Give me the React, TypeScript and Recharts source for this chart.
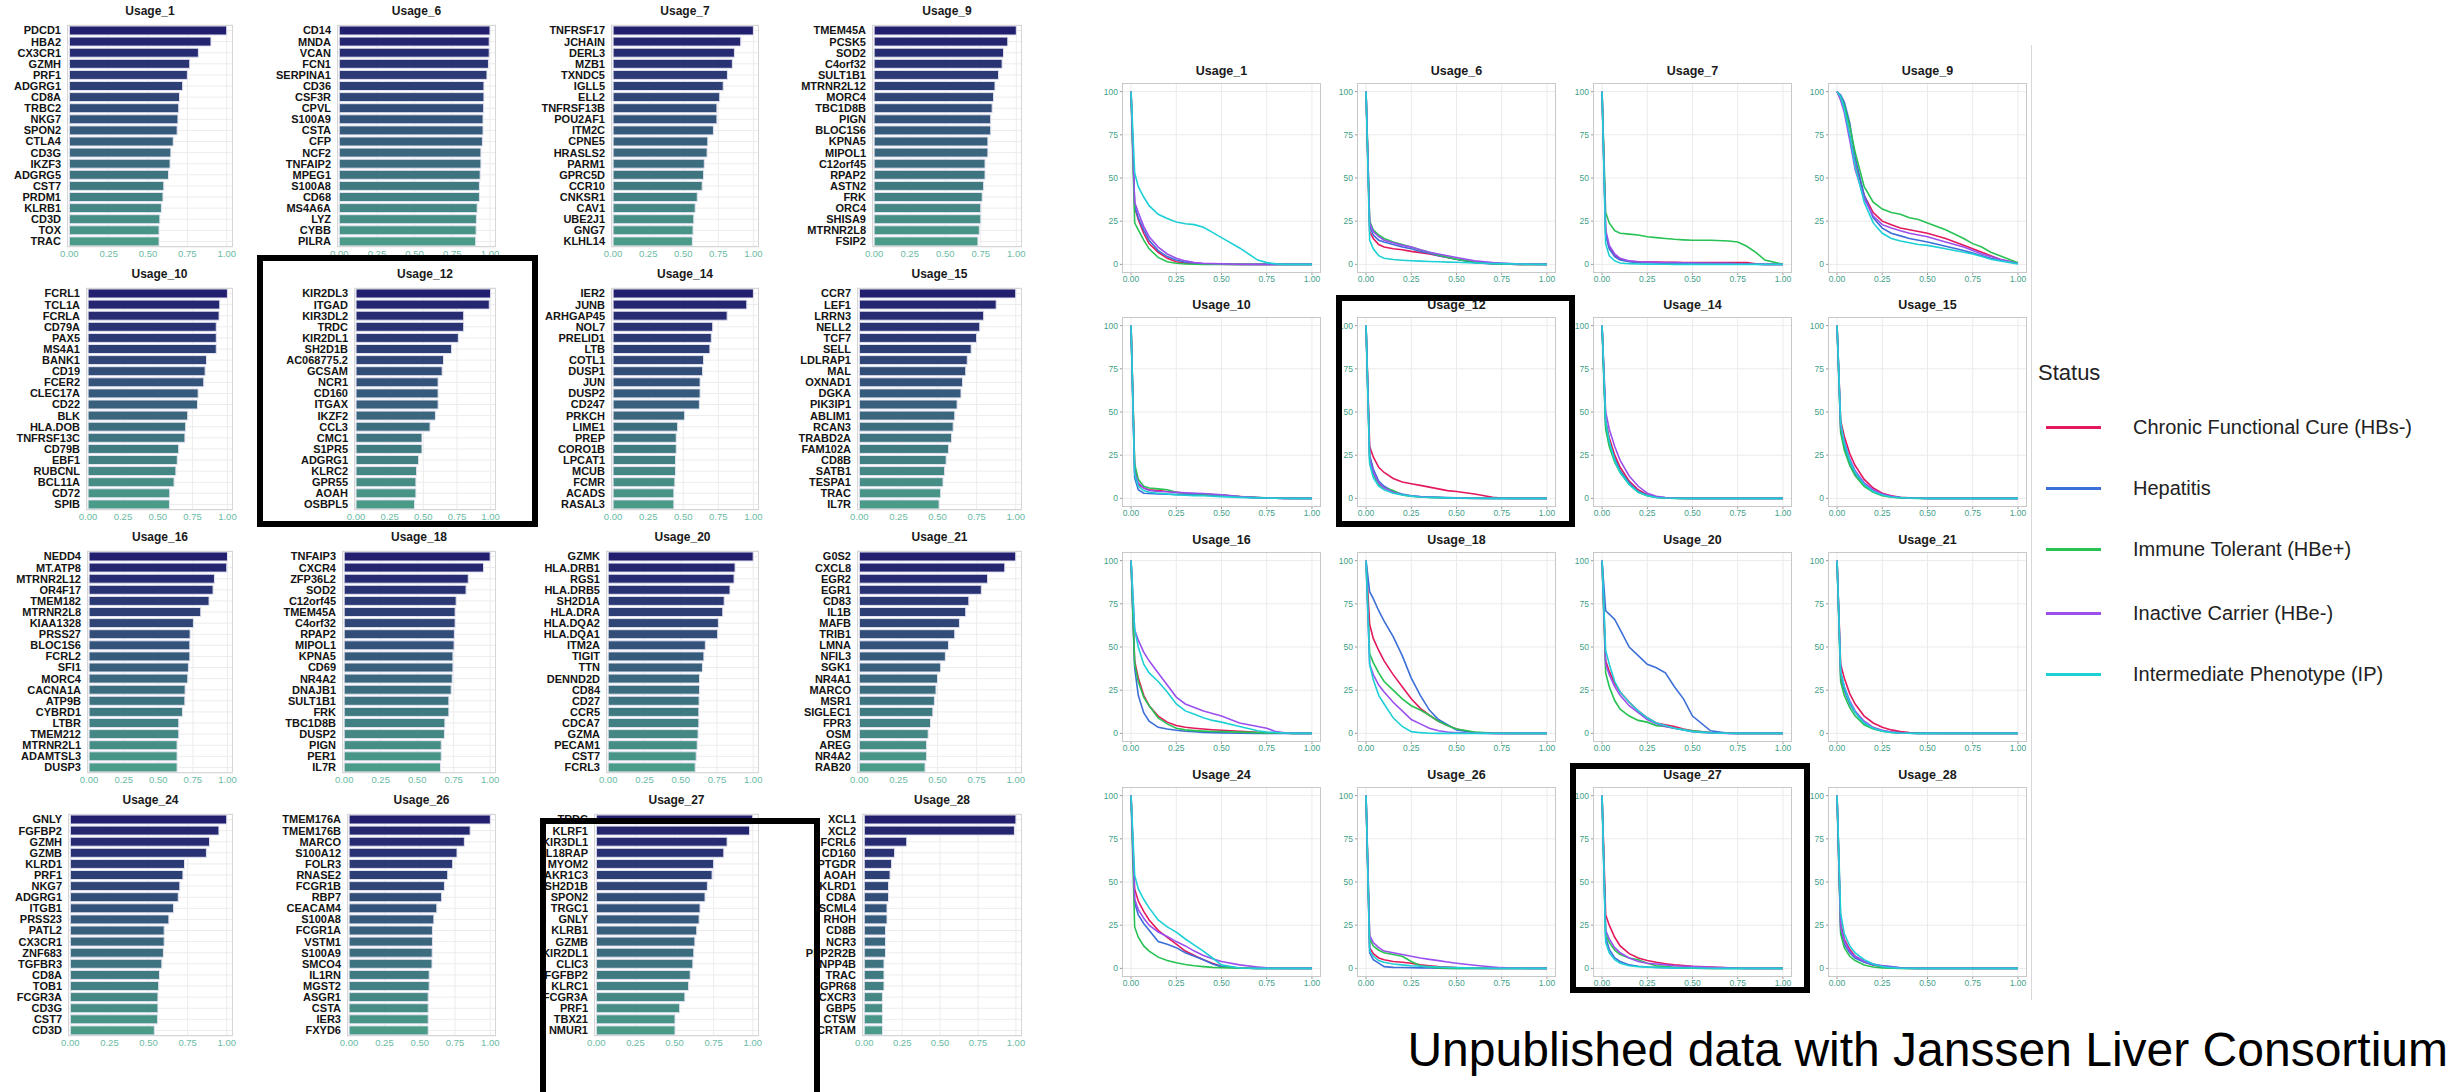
import { BarChart, Bar, Cell, XAxis, YAxis, CartesianGrid, LineChart, Line } from 'recharts'

const FONT = '"Liberation Sans", Arial, Helvetica, sans-serif'

const TITLES = ['Usage_1', 'Usage_6', 'Usage_7', 'Usage_9', 'Usage_10', 'Usage_12', 'Usage_14', 'Usage_15',
  'Usage_16', 'Usage_18', 'Usage_20', 'Usage_21', 'Usage_24', 'Usage_26', 'Usage_27', 'Usage_28']

// ---- top genes per usage (bar panels) ----
const U1_GENES = ['PDCD1', 'HBA2', 'CX3CR1', 'GZMH', 'PRF1', 'ADGRG1', 'CD8A', 'TRBC2', 'NKG7', 'SPON2', 'CTLA4', 'CD3G', 'IKZF3', 'ADGRG5', 'CST7', 'PRDM1', 'KLRB1', 'CD3D', 'TOX', 'TRAC']
const U1_VALUES = [1.0, 0.9, 0.82, 0.765, 0.75, 0.72, 0.7, 0.695, 0.69, 0.685, 0.66, 0.645, 0.64, 0.63, 0.6, 0.595, 0.585, 0.575, 0.57, 0.57]
const U6_GENES = ['CD14', 'MNDA', 'VCAN', 'FCN1', 'SERPINA1', 'CD36', 'CSF3R', 'CPVL', 'S100A9', 'CSTA', 'CFP', 'NCF2', 'TNFAIP2', 'MPEG1', 'S100A8', 'CD68', 'MS4A6A', 'LYZ', 'CYBB', 'PILRA']
const U6_VALUES = [1.0, 0.995, 0.995, 0.99, 0.98, 0.96, 0.96, 0.958, 0.954, 0.954, 0.95, 0.94, 0.94, 0.935, 0.93, 0.93, 0.915, 0.91, 0.908, 0.905]
const U7_GENES = ['TNFRSF17', 'JCHAIN', 'DERL3', 'MZB1', 'TXNDC5', 'IGLL5', 'ELL2', 'TNFRSF13B', 'POU2AF1', 'ITM2C', 'CPNE5', 'HRASLS2', 'PARM1', 'GPRC5D', 'CCR10', 'CNKSR1', 'CAV1', 'UBE2J1', 'GNG7', 'KLHL14']
const U7_VALUES = [1.0, 0.91, 0.865, 0.85, 0.815, 0.785, 0.76, 0.74, 0.74, 0.715, 0.675, 0.67, 0.65, 0.645, 0.635, 0.6, 0.585, 0.575, 0.57, 0.565]
const U9_GENES = ['TMEM45A', 'PCSK5', 'SOD2', 'C4orf32', 'SULT1B1', 'MTRNR2L12', 'MORC4', 'TBC1D8B', 'PIGN', 'BLOC1S6', 'KPNA5', 'MIPOL1', 'C12orf45', 'RPAP2', 'ASTN2', 'FRK', 'ORC4', 'SHISA9', 'MTRNR2L8', 'FSIP2']
const U9_VALUES = [1.0, 0.94, 0.91, 0.9, 0.875, 0.85, 0.84, 0.83, 0.82, 0.82, 0.8, 0.8, 0.78, 0.78, 0.77, 0.76, 0.75, 0.75, 0.74, 0.73]
const U10_GENES = ['FCRL1', 'TCL1A', 'FCRLA', 'CD79A', 'PAX5', 'MS4A1', 'BANK1', 'CD19', 'FCER2', 'CLEC17A', 'CD22', 'BLK', 'HLA.DOB', 'TNFRSF13C', 'CD79B', 'EBF1', 'RUBCNL', 'BCL11A', 'CD72', 'SPIB']
const U10_VALUES = [1.0, 0.945, 0.94, 0.92, 0.92, 0.92, 0.85, 0.84, 0.83, 0.79, 0.785, 0.715, 0.7, 0.695, 0.65, 0.64, 0.63, 0.617, 0.586, 0.584]
const U12_GENES = ['KIR2DL3', 'ITGAD', 'KIR3DL2', 'TRDC', 'KIR2DL1', 'SH2D1B', 'AC068775.2', 'GCSAM', 'NCR1', 'CD160', 'ITGAX', 'IKZF2', 'CCL3', 'CMC1', 'S1PR5', 'ADGRG1', 'KLRC2', 'GPR55', 'AOAH', 'OSBPL5']
const U12_VALUES = [1.0, 0.99, 0.8, 0.8, 0.76, 0.71, 0.65, 0.64, 0.61, 0.61, 0.61, 0.59, 0.55, 0.49, 0.49, 0.465, 0.45, 0.445, 0.445, 0.435]
const U14_GENES = ['IER2', 'JUNB', 'ARHGAP45', 'NOL7', 'PRELID1', 'LTB', 'COTL1', 'DUSP1', 'JUN', 'DUSP2', 'CD247', 'PRKCH', 'LIME1', 'PREP', 'CORO1B', 'LPCAT1', 'MCUB', 'FCMR', 'ACADS', 'RASAL3']
const U14_VALUES = [1.0, 0.953, 0.813, 0.71, 0.7, 0.69, 0.645, 0.638, 0.62, 0.62, 0.615, 0.51, 0.46, 0.45, 0.45, 0.445, 0.445, 0.44, 0.433, 0.433]
const U15_GENES = ['CCR7', 'LEF1', 'LRRN3', 'NELL2', 'TCF7', 'SELL', 'LDLRAP1', 'MAL', 'OXNAD1', 'DGKA', 'PIK3IP1', 'ABLIM1', 'RCAN3', 'TRABD2A', 'FAM102A', 'CD8B', 'SATB1', 'TESPA1', 'TRAC', 'IL7R']
const U15_VALUES = [1.0, 0.875, 0.795, 0.77, 0.75, 0.715, 0.69, 0.68, 0.66, 0.65, 0.625, 0.61, 0.6, 0.59, 0.57, 0.555, 0.545, 0.535, 0.52, 0.51]
const U16_GENES = ['NEDD4', 'MT.ATP8', 'MTRNR2L12', 'OR4F17', 'TMEM182', 'MTRNR2L8', 'KIAA1328', 'PRSS27', 'BLOC1S6', 'FCRL2', 'SFI1', 'MORC4', 'CACNA1A', 'ATP9B', 'CYBRD1', 'LTBR', 'TMEM212', 'MTRNR2L1', 'ADAMTSL3', 'DUSP3']
const U16_VALUES = [1.0, 0.995, 0.906, 0.896, 0.867, 0.807, 0.754, 0.73, 0.728, 0.728, 0.718, 0.713, 0.694, 0.692, 0.675, 0.648, 0.648, 0.636, 0.636, 0.636]
const U18_GENES = ['TNFAIP3', 'CXCR4', 'ZFP36L2', 'SOD2', 'C12orf45', 'TMEM45A', 'C4orf32', 'RPAP2', 'MIPOL1', 'KPNA5', 'CD69', 'NR4A2', 'DNAJB1', 'SULT1B1', 'FRK', 'TBC1D8B', 'DUSP2', 'PIGN', 'PER1', 'IL7R']
const U18_VALUES = [1.0, 0.955, 0.85, 0.835, 0.767, 0.76, 0.76, 0.755, 0.753, 0.745, 0.745, 0.74, 0.733, 0.717, 0.717, 0.69, 0.687, 0.665, 0.665, 0.66]
const U20_GENES = ['GZMK', 'HLA.DRB1', 'RGS1', 'HLA.DRB5', 'SH2D1A', 'HLA.DRA', 'HLA.DQA2', 'HLA.DQA1', 'ITM2A', 'TIGIT', 'TTN', 'DENND2D', 'CD84', 'CD27', 'CCR5', 'CDCA7', 'GZMA', 'PECAM1', 'CST7', 'FCRL3']
const U20_VALUES = [1.0, 0.875, 0.868, 0.84, 0.8, 0.79, 0.76, 0.755, 0.67, 0.66, 0.65, 0.63, 0.63, 0.627, 0.625, 0.625, 0.62, 0.614, 0.607, 0.6]
const U21_GENES = ['G0S2', 'CXCL8', 'EGR2', 'EGR1', 'CD83', 'IL1B', 'MAFB', 'TRIB1', 'LMNA', 'NFIL3', 'SGK1', 'NR4A1', 'MARCO', 'MSR1', 'SIGLEC1', 'FPR3', 'OSM', 'AREG', 'NR4A2', 'RAB20']
const U21_VALUES = [1.0, 0.93, 0.82, 0.78, 0.7, 0.68, 0.64, 0.61, 0.57, 0.55, 0.52, 0.5, 0.49, 0.48, 0.47, 0.455, 0.44, 0.43, 0.43, 0.42]
const U24_GENES = ['GNLY', 'FGFBP2', 'GZMH', 'GZMB', 'KLRD1', 'PRF1', 'NKG7', 'ADGRG1', 'ITGB1', 'PRSS23', 'PATL2', 'CX3CR1', 'ZNF683', 'TGFBR3', 'CD8A', 'TOB1', 'FCGR3A', 'CD3G', 'CST7', 'CD3D']
const U24_VALUES = [1.0, 0.95, 0.89, 0.87, 0.73, 0.72, 0.7, 0.69, 0.66, 0.63, 0.6, 0.6, 0.595, 0.585, 0.57, 0.565, 0.56, 0.56, 0.558, 0.537]
const U26_GENES = ['TMEM176A', 'TMEM176B', 'MARCO', 'S100A12', 'FOLR3', 'RNASE2', 'FCGR1B', 'RBP7', 'CEACAM4', 'S100A8', 'FCGR1A', 'VSTM1', 'S100A9', 'SMCO4', 'IL1RN', 'MGST2', 'ASGR1', 'CSTA', 'IER3', 'FXYD6']
const U26_VALUES = [1.0, 0.857, 0.816, 0.764, 0.733, 0.698, 0.675, 0.655, 0.621, 0.6, 0.59, 0.59, 0.588, 0.587, 0.567, 0.567, 0.56, 0.56, 0.56, 0.56]
const U27_GENES = ['TRDC', 'KLRF1', 'KIR3DL1', 'IL18RAP', 'MYOM2', 'AKR1C3', 'SH2D1B', 'SPON2', 'TRGC1', 'GNLY', 'KLRB1', 'GZMB', 'KIR2DL1', 'CLIC3', 'FGFBP2', 'KLRC1', 'FCGR3A', 'PRF1', 'TBX21', 'NMUR1']
const U27_VALUES = [1.0, 0.98, 0.836, 0.815, 0.75, 0.74, 0.71, 0.695, 0.663, 0.657, 0.642, 0.63, 0.623, 0.617, 0.6, 0.59, 0.566, 0.533, 0.503, 0.503]
const U28_GENES = ['XCL1', 'XCL2', 'FCRL6', 'CD160', 'PTGDR', 'AOAH', 'KLRD1', 'CD8A', 'SCML4', 'RHOH', 'CD8B', 'NCR3', 'PPP2R2B', 'INPP4B', 'TRAC', 'GPR68', 'CXCR3', 'GBP5', 'CTSW', 'CRTAM']
const U28_VALUES = [1.0, 0.99, 0.28, 0.2, 0.18, 0.17, 0.16, 0.16, 0.15, 0.15, 0.14, 0.14, 0.14, 0.13, 0.13, 0.13, 0.12, 0.12, 0.12, 0.12]

const BAR_GENES = [U1_GENES, U6_GENES, U7_GENES, U9_GENES, U10_GENES, U12_GENES, U14_GENES, U15_GENES,
  U16_GENES, U18_GENES, U20_GENES, U21_GENES, U24_GENES, U26_GENES, U27_GENES, U28_GENES]
const BAR_VALUES = [U1_VALUES, U6_VALUES, U7_VALUES, U9_VALUES, U10_VALUES, U12_VALUES, U14_VALUES, U15_VALUES,
  U16_VALUES, U18_VALUES, U20_VALUES, U21_VALUES, U24_VALUES, U26_VALUES, U27_VALUES, U28_VALUES]

// ---- % cells above usage cutoff, per status (line panels) ----
const CUTOFFS = [0, 0.02, 0.04, 0.07, 0.1, 0.15, 0.2, 0.25, 0.3, 0.35, 0.4, 0.45, 0.5, 0.6, 0.7, 0.75, 0.8, 0.85, 0.9, 1.0]

const STATUS = ['Chronic Functional Cure (HBs-)', 'Hepatitis', 'Immune Tolerant (HBe+)', 'Inactive Carrier (HBe-)', 'Intermediate Phenotype (IP)']
const STATUS_KEYS = ['cfc', 'hep', 'it', 'ic', 'ip']
const STATUS_COLORS = ['#e3195b', '#3d6fd8', '#27c253', '#9b50ee', '#1dd0d6']

// order: cfc, hep, it, ic, ip
const C1 = [
  [100, 33, 26, 18, 12, 7, 3.5, 1.5, 0.8, 0.4, 0.2, 0.1, 0.1, 0, 0, 0, 0, 0, 0, 0],
  [100, 34, 27, 20, 14, 8, 4.5, 2.5, 1.2, 0.6, 0.3, 0.2, 0.1, 0, 0, 0, 0, 0, 0, 0],
  [100, 24, 20, 14, 9, 4, 1.5, 0.6, 0.2, 0.1, 0, 0, 0, 0, 0, 0, 0, 0, 0, 0],
  [100, 36, 30, 22, 16, 10, 6, 3.5, 2, 1, 0.6, 0.4, 0.3, 0.1, 0, 0, 0, 0, 0, 0],
  [100, 53, 45, 39, 34, 29, 26.5, 24.5, 23.5, 23, 21.5, 18.5, 15.5, 9.5, 2.5, 1, 0.3, 0, 0, 0],
]
const C6 = [
  [100, 19, 15, 11.5, 10, 9, 8.5, 7.5, 6.8, 6, 5, 4, 3, 1.3, 0.5, 0.3, 0.1, 0, 0, 0],
  [100, 22, 17, 14, 13, 11.5, 10, 9, 7.5, 6.5, 5, 4, 3, 1, 0.3, 0.2, 0.1, 0, 0, 0],
  [100, 25, 20, 17, 15, 13, 11.5, 10, 8.5, 7, 5.5, 4.2, 3, 1.2, 0.4, 0.2, 0.1, 0, 0, 0],
  [100, 24, 19, 16, 14, 12.5, 11, 10, 8.5, 7, 6, 5, 4, 2, 1, 0.7, 0.4, 0.2, 0.1, 0],
  [100, 14, 9, 5, 3.5, 2.8, 2.4, 2.1, 1.9, 1.7, 1.5, 1.3, 1.2, 0.8, 0.5, 0.4, 0.3, 0.2, 0.1, 0],
]
const C7 = [
  [100, 18, 10, 5, 3, 1.8, 1.5, 1.4, 1.3, 1.2, 1.2, 1.1, 1.1, 1, 1, 1, 1, 0.3, 0, 0],
  [100, 17, 9, 4.5, 2.5, 1.5, 1, 0.9, 0.8, 0.7, 0.7, 0.6, 0.6, 0.5, 0.4, 0.3, 0.2, 0.1, 0, 0],
  [100, 30, 24, 19.5, 18, 17.5, 17, 16, 15.5, 15, 14.5, 14.2, 14, 14, 13.5, 13, 10.5, 7, 2.5, 0],
  [100, 20, 11, 6, 3.5, 2, 1.5, 1.3, 1.2, 1.1, 1, 0.9, 0.8, 0.6, 0.4, 0.3, 0.2, 0.1, 0, 0],
  [100, 12, 5, 2, 0.8, 0.4, 0.2, 0.15, 0.1, 0.1, 0, 0, 0, 0, 0, 0, 0, 0, 0, 0],
]
const C9 = [
  [100, 96, 90, 75, 58, 40, 30, 25, 23, 21, 20, 19, 18, 15, 11, 9, 7, 5, 3, 0.5],
  [100, 98, 94, 82, 62, 40, 27, 21, 18, 16.5, 15, 14, 13, 10.5, 8, 6.5, 5, 3.5, 2.5, 0.5],
  [100, 97, 92, 80, 65, 45, 36, 32, 30, 29, 27, 26, 24, 20, 15, 12, 10, 7, 5, 1],
  [100, 95, 88, 72, 55, 38, 28, 23, 21, 19.5, 18, 17, 16, 13, 10, 8, 6, 4.5, 3, 0.5],
  [100, 97, 90, 75, 57, 36, 24, 18, 15, 13.5, 12.5, 11.5, 11, 9, 7, 6, 4.5, 3, 2, 0.3],
]
const C10 = [
  [100, 18, 8, 6, 5, 4.5, 4, 3.5, 3, 2.7, 2.5, 2.2, 1.8, 1, 0.4, 0.2, 0.1, 0, 0, 0],
  [100, 12, 5, 3, 2.8, 2.5, 2.4, 2.3, 2.2, 2.1, 2, 1.8, 1.5, 0.8, 0.3, 0.2, 0.1, 0, 0, 0],
  [100, 20, 11, 7, 6, 5.5, 5, 3.5, 3, 2.8, 2.5, 2.2, 2, 1, 0.5, 0.3, 0.2, 0.1, 0, 0],
  [100, 15, 9, 6, 4.5, 4, 3.8, 3.5, 3.2, 3, 2.8, 2.4, 2, 1, 0.4, 0.2, 0.1, 0, 0, 0],
  [100, 14, 7, 4.5, 3.5, 3, 2.5, 2, 1.8, 1.6, 1.5, 1.2, 1, 0.6, 0.3, 0.2, 0.1, 0, 0, 0],
]
const C12 = [
  [100, 30, 24, 18, 15, 11.5, 9.5, 8.5, 7.5, 6.5, 5.5, 4.5, 4, 2.5, 0.6, 0.2, 0, 0, 0, 0],
  [100, 25, 17, 10, 7, 4, 2.5, 1.5, 1, 0.8, 0.6, 0.4, 0.3, 0.1, 0, 0, 0, 0, 0, 0],
  [100, 22, 14, 8, 6, 4.5, 2, 1.2, 0.8, 0.6, 0.4, 0.2, 0.1, 0, 0, 0, 0, 0, 0, 0],
  [100, 23, 15, 9, 6, 3.5, 2.2, 1.4, 0.9, 0.7, 0.5, 0.3, 0.2, 0, 0, 0, 0, 0, 0, 0],
  [100, 20, 12, 7, 5, 3, 2, 1.3, 0.8, 0.6, 0.4, 0.3, 0.2, 0.1, 0, 0, 0, 0, 0, 0],
]
const C14 = [
  [100, 45, 35, 25, 18, 10, 5, 2, 0.8, 0.3, 0.1, 0, 0, 0, 0, 0, 0, 0, 0, 0],
  [100, 42, 32, 23, 16, 9, 4, 1.8, 0.7, 0.3, 0.1, 0, 0, 0, 0, 0, 0, 0, 0, 0],
  [100, 40, 30, 21, 15, 8, 3.5, 1.5, 0.5, 0.2, 0, 0, 0, 0, 0, 0, 0, 0, 0, 0],
  [100, 50, 40, 30, 22, 13, 7, 3, 1.2, 0.5, 0.2, 0.1, 0, 0, 0, 0, 0, 0, 0, 0],
  [100, 45, 33, 22, 15, 8, 3.5, 1.5, 0.5, 0.2, 0.1, 0, 0, 0, 0, 0, 0, 0, 0, 0],
]
const C15 = [
  [100, 45, 36, 26, 19, 11, 6, 3, 1.5, 0.6, 0.3, 0.1, 0, 0, 0, 0, 0, 0, 0, 0],
  [100, 40, 30, 21, 14, 8, 4, 2, 1, 0.5, 0.2, 0.1, 0, 0, 0, 0, 0, 0, 0, 0],
  [100, 38, 28, 19, 13, 7, 3.5, 1.5, 0.6, 0.3, 0.1, 0, 0, 0, 0, 0, 0, 0, 0, 0],
  [100, 42, 33, 23, 16, 9, 5, 2.5, 1.2, 0.5, 0.2, 0.1, 0, 0, 0, 0, 0, 0, 0, 0],
  [100, 44, 32, 22, 15, 8, 4, 2, 0.8, 0.4, 0.2, 0.1, 0, 0, 0, 0, 0, 0, 0, 0],
]
const C16 = [
  [100, 42, 32, 22, 16, 10, 6.5, 4.5, 3.5, 3, 2.5, 2.1, 1.8, 1.2, 0.6, 0.4, 0.3, 0.1, 0, 0],
  [100, 38, 22, 12, 7, 3.5, 2.5, 1.8, 1.2, 0.9, 0.6, 0.4, 0.3, 0.1, 0, 0, 0, 0, 0, 0],
  [100, 40, 30, 21, 16, 9, 5.5, 3, 2, 1.6, 1.3, 1.1, 1, 0.7, 0.4, 0.3, 0.2, 0.1, 0, 0],
  [100, 60, 54, 47, 42, 35, 28, 21, 17, 15, 13, 11.5, 10, 6, 4, 3, 1, 0.3, 0, 0],
  [100, 60, 50, 40, 35, 30, 24, 17, 13, 11, 9, 7.5, 6.5, 4, 1.5, 0.8, 0.5, 0.2, 0, 0],
]
const C18 = [
  [100, 63, 55, 48, 42, 34, 27, 20, 14.5, 10.5, 7, 4.5, 2.5, 0.4, 0, 0, 0, 0, 0, 0],
  [100, 82, 78, 71, 65, 56, 45, 32, 22, 13.5, 8, 5, 2, 0.5, 0.1, 0, 0, 0, 0, 0],
  [100, 46, 41, 35, 30, 25, 20, 16, 13.5, 10.5, 7, 4.5, 2.5, 0.8, 0.2, 0.1, 0, 0, 0, 0],
  [100, 40, 34, 28, 24, 18, 13, 8, 5.5, 3, 1.5, 0.8, 0.4, 0.1, 0, 0, 0, 0, 0, 0],
  [100, 40, 31, 22, 17, 9, 4, 1, 0.4, 0.1, 0, 0, 0, 0, 0, 0, 0, 0, 0, 0],
]
const C20 = [
  [100, 42, 36, 29, 24, 18, 13, 9, 6, 5, 4, 2.5, 1.5, 0.5, 0.1, 0, 0, 0, 0, 0],
  [100, 71, 69, 66, 60, 50, 45, 40, 38, 35, 27, 20, 10, 1.5, 0, 0, 0, 0, 0, 0],
  [100, 35, 27, 19, 14, 10, 7.5, 6.5, 4.5, 4, 3, 2.2, 1.5, 0.5, 0.1, 0, 0, 0, 0, 0],
  [100, 40, 34, 27, 22, 16, 12, 8, 5.5, 4, 3, 2, 1, 0.3, 0, 0, 0, 0, 0, 0],
  [100, 48, 40, 30, 24, 18, 13, 9, 6, 4.5, 3, 2, 1, 0.3, 0.1, 0, 0, 0, 0, 0],
]
const C21 = [
  [100, 40, 32, 23, 17, 10, 6, 3.5, 2, 1, 0.5, 0.3, 0.1, 0, 0, 0, 0, 0, 0, 0],
  [100, 33, 25, 17, 12, 6, 3, 1.5, 0.7, 0.3, 0.1, 0, 0, 0, 0, 0, 0, 0, 0, 0],
  [100, 30, 22, 15, 10, 5, 2.5, 1.2, 0.5, 0.2, 0.1, 0, 0, 0, 0, 0, 0, 0, 0, 0],
  [100, 35, 27, 19, 13, 7, 3.5, 1.8, 0.8, 0.3, 0.1, 0, 0, 0, 0, 0, 0, 0, 0, 0],
  [100, 36, 27, 18, 12, 6, 3, 1.3, 0.5, 0.2, 0.1, 0, 0, 0, 0, 0, 0, 0, 0, 0],
]
const C24 = [
  [100, 46, 39, 33, 28, 22, 18, 14, 10, 7.5, 5, 3, 1.2, 0.2, 0, 0, 0, 0, 0, 0],
  [100, 38, 31, 26, 22, 15.5, 14, 12, 9, 7, 5, 2.5, 1, 0.2, 0, 0, 0, 0, 0, 0],
  [100, 24, 18, 13, 10, 6.5, 4.5, 3.2, 2.2, 1.5, 1, 0.6, 0.4, 0.1, 0, 0, 0, 0, 0, 0],
  [100, 40, 34, 29, 25, 21, 18.5, 15.5, 13, 10, 7.5, 5.5, 4, 2, 0.8, 0.3, 0.1, 0, 0, 0],
  [100, 54, 46, 40, 35, 28, 24, 21, 17, 13.5, 10, 6, 2, 0.2, 0, 0, 0, 0, 0, 0],
]
const C26 = [
  [100, 12, 8.5, 6, 5, 4, 3.5, 3, 2, 1.5, 1, 0.7, 0.4, 0.1, 0, 0, 0, 0, 0, 0],
  [100, 9, 5, 3, 1, 0.6, 0.5, 0.4, 0.3, 0.2, 0.1, 0, 0, 0, 0, 0, 0, 0, 0, 0],
  [100, 17, 13, 10.5, 9, 8, 7, 4, 1.5, 0.8, 0.3, 0.1, 0, 0, 0, 0, 0, 0, 0, 0],
  [100, 19, 15, 12, 10, 9, 8, 7, 6, 5.2, 4.5, 3.7, 3, 1.8, 0.8, 0.4, 0.2, 0.1, 0, 0],
  [100, 10, 7, 4.5, 3.5, 2.5, 2, 1.5, 1.2, 1, 0.8, 0.6, 0.4, 0.2, 0.1, 0, 0, 0, 0, 0],
]
const C27 = [
  [100, 31, 25, 18, 13, 8.5, 6, 4.5, 3.5, 2.7, 2, 1.6, 1.2, 0.7, 0.3, 0.1, 0, 0, 0, 0],
  [100, 18, 11, 6, 4, 2, 1.2, 0.8, 0.6, 0.4, 0.3, 0.2, 0.1, 0, 0, 0, 0, 0, 0, 0],
  [100, 20, 15, 10.5, 8, 6, 5, 3, 1.5, 1, 0.6, 0.3, 0.1, 0, 0, 0, 0, 0, 0, 0],
  [100, 22, 17, 12, 9, 6, 4, 3, 2.5, 2, 1.5, 1.2, 1, 0.6, 0.3, 0.1, 0, 0, 0, 0],
  [100, 15, 9, 5, 3, 1.5, 1, 0.7, 0.5, 0.4, 0.3, 0.2, 0.2, 0.1, 0, 0, 0, 0, 0, 0],
]
const C28 = [
  [100, 26, 17, 11, 7, 4, 2, 1, 0.4, 0.1, 0, 0, 0, 0, 0, 0, 0, 0, 0, 0],
  [100, 22, 14, 9, 6, 3.5, 2, 1.5, 1, 0.3, 0.1, 0, 0, 0, 0, 0, 0, 0, 0, 0],
  [100, 20, 12, 7, 4.5, 2, 0.8, 0.3, 0.1, 0, 0, 0, 0, 0, 0, 0, 0, 0, 0, 0],
  [100, 24, 16, 10, 7, 4, 2.5, 1.5, 0.8, 0.3, 0.1, 0, 0, 0, 0, 0, 0, 0, 0, 0],
  [100, 32, 20, 13, 9, 5, 2.5, 1, 0.4, 0.1, 0, 0, 0, 0, 0, 0, 0, 0, 0, 0],
]
const CURVES = [C1, C6, C7, C9, C10, C12, C14, C15, C16, C18, C20, C21, C24, C26, C27, C28]

// ---- layout ----
const CELL = 263
const BAR_LABEL_W = [67, 74, 85, 83, 86, 91, 85, 68, 87, 79, 80, 68, 68, 84, 68, 73]
const LINE_LEFT = [1122, 1357, 1593, 1828]
const LINE_TOP = [83, 317, 552, 787]
const LINE_W = 199
const LINE_H = 190
const BAR_TICK = '#6bbaa4'
const LINE_TICK = '#3f9f88'

const BAR_TOP = [0x23, 0x1f, 0x6f]
const BAR_BOTTOM = [0x4a, 0x9b, 0x88]
function barColor(i: number, n: number) {
  const t = i / (n - 1)
  const c = BAR_TOP.map((a, k) => Math.round(a + (BAR_BOTTOM[k] - a) * t))
  return `rgb(${c[0]},${c[1]},${c[2]})`
}

const eighths = [0, 0.125, 0.25, 0.375, 0.5, 0.625, 0.75, 0.875, 1]

function BarPanel({ idx }: { idx: number }) {
  const col = idx % 4
  const row = Math.floor(idx / 4)
  const labelW = BAR_LABEL_W[idx]
  const rows = BAR_GENES[idx].map((g, i) => ({ gene: g, value: BAR_VALUES[idx][i] }))
  const left = col * CELL
  const top = row * CELL
  const plotRight = 233
  return (
    <div style={{ position: 'absolute', left, top, width: CELL, height: CELL }}>
      <div style={{ position: 'absolute', left: labelW, width: plotRight - labelW, top: 3, height: 16, lineHeight: '16px', textAlign: 'center', fontSize: 12, fontWeight: 700, color: '#1a1a1a' }}>
        {TITLES[idx]}
      </div>
      <BarChart width={CELL} height={CELL} data={rows} layout="vertical"
        margin={{ top: 25, right: CELL - plotRight, bottom: 0, left: 0 }} barCategoryGap={1}>
        <CartesianGrid stroke="#ececec" verticalValues={eighths} />
        <XAxis type="number" domain={[-0.015, 1.04]} allowDataOverflow ticks={[0, 0.25, 0.5, 0.75, 1]}
          tickFormatter={(v: number) => v.toFixed(2)} height={16} axisLine={false} tickLine={false}
          tickSize={2} tickMargin={1} tick={{ fontSize: 9.5, fill: BAR_TICK, fontFamily: FONT }} />
        <YAxis type="category" dataKey="gene" width={labelW} interval={0} axisLine={false} tickLine={false}
          tickSize={3} tickMargin={3} tick={{ fontSize: 11, fontWeight: 700, fill: '#141414', fontFamily: FONT }} />
        <Bar dataKey="value" isAnimationActive={false} stroke="#e2e2f0" strokeWidth={1}>
          {rows.map((r, i) => <Cell key={r.gene} fill={barColor(i, rows.length)} />)}
        </Bar>
      </BarChart>
      <div style={{ position: 'absolute', left: labelW, top: 25, width: plotRight - labelW, height: 222, border: '1px solid #d6d6d6', boxSizing: 'border-box', pointerEvents: 'none' }} />
    </div>
  )
}

function LinePanel({ idx }: { idx: number }) {
  const col = idx % 4
  const row = Math.floor(idx / 4)
  const curves = CURVES[idx]
  const rows = CUTOFFS.map((x, i) => {
    const r: Record<string, number> = { x }
    STATUS_KEYS.forEach((k, s) => { r[k] = curves[s][i] })
    return r
  })
  const axisW = 28
  const plotLeft = LINE_LEFT[col]
  const plotTop = LINE_TOP[row]
  return (
    <>
      <div style={{ position: 'absolute', left: plotLeft, width: LINE_W, top: plotTop - 21, height: 18, lineHeight: '18px', textAlign: 'center', fontSize: 12.5, fontWeight: 700, color: '#1a1a1a' }}>
        {TITLES[idx]}
      </div>
      <div style={{ position: 'absolute', left: plotLeft - axisW, top: plotTop }}>
        <LineChart width={axisW + LINE_W + 1} height={LINE_H + 16} data={rows} margin={{ top: 0, right: 1, bottom: 0, left: 0 }}>
          <CartesianGrid stroke="#ebebeb" verticalValues={eighths} horizontalValues={[0, 12.5, 25, 37.5, 50, 62.5, 75, 87.5, 100]} />
          <XAxis type="number" dataKey="x" domain={[-0.05, 1.05]} allowDataOverflow ticks={[0, 0.25, 0.5, 0.75, 1]}
            tickFormatter={(v: number) => v.toFixed(2)} height={16} axisLine={false}
            tickLine={{ stroke: '#9a9a9a' }} tickSize={2} tickMargin={1}
            tick={{ fontSize: 8.5, fill: LINE_TICK, fontFamily: FONT }} />
          <YAxis type="number" domain={[-5, 105]} allowDataOverflow ticks={[0, 25, 50, 75, 100]} width={axisW}
            axisLine={false} tickLine={{ stroke: '#9a9a9a' }} tickSize={2} tickMargin={2}
            tick={{ fontSize: 8.5, fill: LINE_TICK, fontFamily: FONT }} />
          {STATUS_KEYS.map((k, s) => (
            <Line key={k} type="linear" dataKey={k} stroke={STATUS_COLORS[s]} strokeWidth={1.6} dot={false} isAnimationActive={false} />
          ))}
        </LineChart>
      </div>
      <div style={{ position: 'absolute', left: plotLeft, top: plotTop, width: LINE_W, height: LINE_H, border: '1px solid #c8c8c8', boxSizing: 'border-box', pointerEvents: 'none' }} />
    </>
  )
}

function Box({ l, t, r, b }: { l: number; t: number; r: number; b: number }) {
  return <div style={{ position: 'absolute', left: l, top: t, width: r - l, height: b - t, border: '6px solid #000', boxSizing: 'border-box', pointerEvents: 'none' }} />
}

const LEGEND_Y = [427, 488, 549, 613, 674]

export default function App() {
  return (
    <div style={{ position: 'absolute', left: 0, top: 0, width: 2459, height: 1092, overflow: 'hidden', background: '#fff', fontFamily: FONT }}>
      {TITLES.map((t, i) => <BarPanel key={'b' + t} idx={i} />)}
      {TITLES.map((t, i) => <LinePanel key={'l' + t} idx={i} />)}

      <div style={{ position: 'absolute', left: 2031, top: 45, width: 1, height: 955, background: '#d8d8d8' }} />

      <div style={{ position: 'absolute', left: 2038, top: 360, fontSize: 22, lineHeight: '26px', color: '#222' }}>Status</div>
      {STATUS.map((s, i) => (
        <div key={s}>
          <div style={{ position: 'absolute', left: 2046, top: LEGEND_Y[i] - 1.5, width: 55, height: 3, background: STATUS_COLORS[i] }} />
          <div style={{ position: 'absolute', left: 2133, top: LEGEND_Y[i] - 12, fontSize: 20, lineHeight: '24px', color: '#222', whiteSpace: 'nowrap' }}>{s}</div>
        </div>
      ))}

      <div style={{ position: 'absolute', right: 11, top: 1026, fontSize: 48, lineHeight: '48px', color: '#000', whiteSpace: 'nowrap' }}>
        Unpublished data with Janssen Liver Consortium
      </div>

      <Box l={257} t={255} r={538} b={527} />
      <Box l={540} t={818} r={820} b={1100} />
      <Box l={1336} t={295} r={1575} b={527} />
      <Box l={1570} t={763} r={1810} b={993} />
    </div>
  )
}
